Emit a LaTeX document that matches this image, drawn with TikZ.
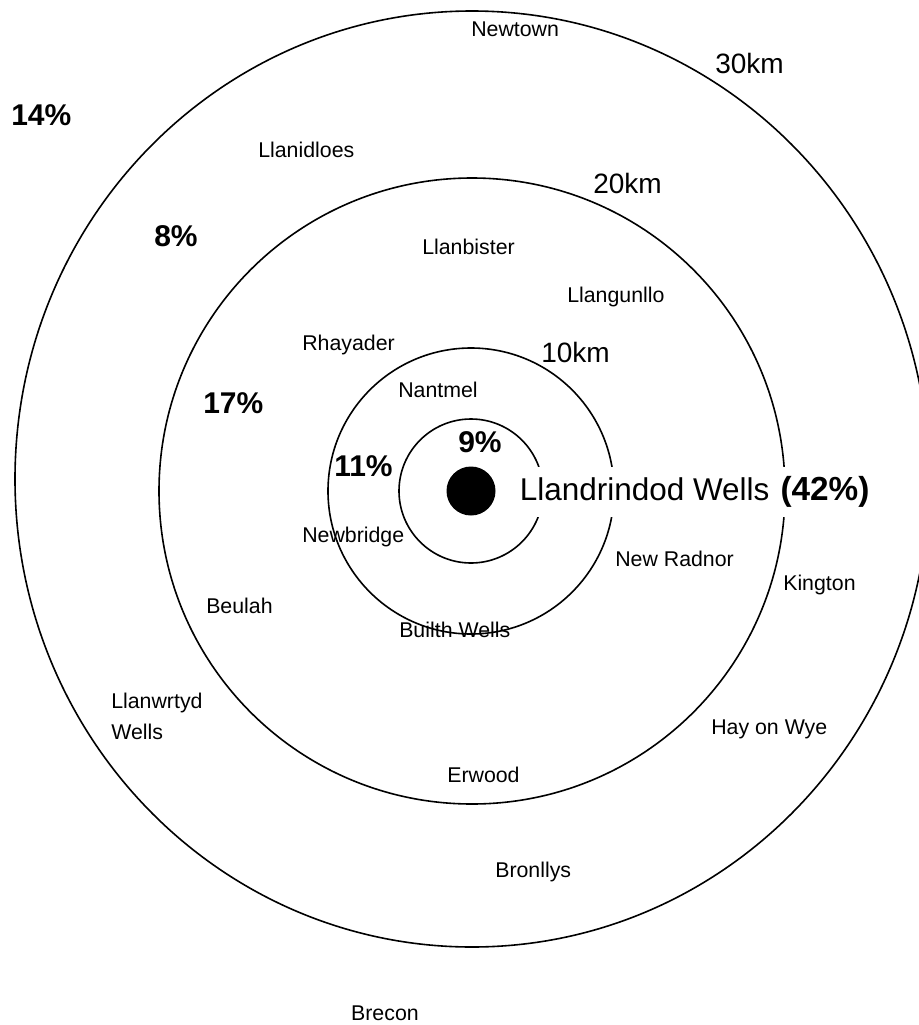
\documentclass[tikz,border=0pt]{standalone}
\usepackage{fontspec}
\setmainfont{Liberation Sans}
\begin{document}
\begin{tikzpicture}[x=0.75pt,y=-0.75pt,
  ring/.style={draw=black,line width=1.2pt},
  town/.style={font=\fontsize{16}{19}\selectfont,anchor=base west,inner sep=0pt},
  km/.style={font=\fontsize{21}{25}\selectfont,anchor=base west,inner sep=0pt},
  pct/.style={font=\fontsize{22.5}{27}\selectfont\bfseries,anchor=base west,inner sep=0pt}]
\useasboundingbox (0,0) rectangle (919,1025);
\clip (0,0) rectangle (919,1025);
% rings
\draw[ring] (472,479) ellipse [x radius=457, y radius=468];
\draw[ring] (472,491) circle [radius=313];
\draw[ring] (471,491) circle [radius=143];
\draw[ring] (471,491) circle [radius=72];
\fill[black] (471,491) circle [radius=24.5];
% centre label
\node[fill=white,inner xsep=8pt,inner ysep=0pt,text height=24.75pt,text depth=12.75pt,anchor=base west] (llw) at (509,500)
  {\fontsize{23.6}{28}\selectfont Llandrindod Wells\hspace{0.35em}\fontsize{25}{30}\selectfont\bfseries (42\%)};
% distance labels
\node[km] (k30) at (715,73) {30km};
\node[km] (k20) at (593,193) {20km};
\node[km] (k10) at (541,362) {10km};
% percentages
\node[pct] (p14) at (11,125) {14\%};
\node[pct] (p8) at (154,246) {8\%};
\node[pct] (p17) at (203,413) {17\%};
\node[pct] (p11) at (334,476) {11\%};
\node[pct] (p9) at (458,452) {9\%};
% towns
\node[town] (newtown) at (471,36) {Newtown};
\node[town] (llanidloes) at (258,157) {Llanidloes};
\node[town] (llanbister) at (422,254) {Llanbister};
\node[town] (llangunllo) at (567,302) {Llangunllo};
\node[town] (rhayader) at (302,350) {Rhayader};
\node[town] (nantmel) at (398,397) {Nantmel};
\node[town] (newbridge) at (302,542) {Newbridge};
\node[town] (builth) at (399,637) {Builth Wells};
\node[town] (newradnor) at (615,566) {New Radnor};
\node[town] (kington) at (783,590) {Kington};
\node[town] (beulah) at (206,613) {Beulah};
\node[town,anchor=north west,align=left,font=\fontsize{16}{23.25}\selectfont] (llanwrtyd) at (111,692.5) {Llanwrtyd\\Wells};
\node[town] (hay) at (711,734) {Hay on Wye};
\node[town] (erwood) at (447,782) {Erwood};
\node[town] (bronllys) at (495,877) {Bronllys};
\node[town,anchor=base east] (brecon) at (419,1020) {Brecon};
\end{tikzpicture}
\end{document}
